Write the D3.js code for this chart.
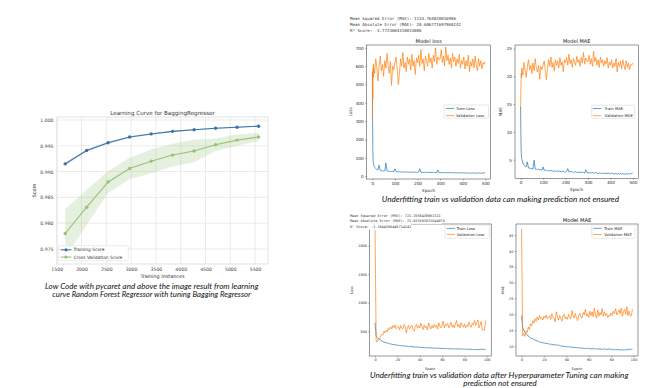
<!DOCTYPE html>
<html><head><meta charset="utf-8">
<script src="https://cdn.jsdelivr.net/npm/d3@7"></script>
<style>body{margin:0;background:#fff}svg{display:block}</style>
</head><body><svg id="c" width="660" height="388"></svg>
<script>
// ================= DATA =================
// Learning curve (left)
const trainSizes = [1671, 2104, 2537, 2970, 3404, 3837, 4270, 4703, 5137, 5570];
const trainScore = [0.9915, 0.9941, 0.9956, 0.9967, 0.9973, 0.9978, 0.9981, 0.9984, 0.9986, 0.9988];
const trainStd   = [0.0003, 0.0002, 0.0002, 0.00015, 0.00015, 0.00012, 0.0001, 0.0001, 0.0001, 0.0001];
const cvScore    = [0.9780, 0.9831, 0.9880, 0.9906, 0.9920, 0.9932, 0.9940, 0.9952, 0.9961, 0.9967];
const cvStd      = [0.0047, 0.0034, 0.0021, 0.0021, 0.0023, 0.0022, 0.0022, 0.0012, 0.0011, 0.0008];
const lcXTicks = [1500, 2000, 2500, 3000, 3500, 4000, 4500, 5000, 5500];
const lcYTicks = [0.975, 0.980, 0.985, 0.990, 0.995, 1.000];

// Top panels (500 epochs, sampled)
const topEpochs = [0, 1, 2, 3, 4].concat(d3.range(5, 500, 5), [499]);
const topTrainLoss = [570, 310, 150, 100, 78,
  64, 48, 42, 37, 34, 60, 31, 30, 29, 28, 29, 72, 28, 27, 26, 27, 25, 26, 25,
  40, 24, 24, 23, 25, 23, 22, 24, 23, 22, 23, 22, 21, 23, 22, 21, 22, 21, 22, 21,
  21, 22, 40, 21, 20, 21, 22, 20, 21, 20, 21, 20, 19, 21, 20, 20, 19, 20, 34, 20,
  19, 20, 19, 18, 20, 19, 18, 19, 20, 18, 19, 18, 19, 18, 17, 19, 18, 17, 18, 19,
  18, 17, 18, 16, 17, 18, 16, 17, 16, 18, 16, 17, 16, 17, 16, 18, 16, 17, 17, 18, 20];
const topValLoss = [300, 560, 420, 590, 540,
  610, 560, 640, 590, 520, 600, 655, 575, 610, 545, 630, 590, 670, 600, 560, 625, 495, 600, 580,
  620, 650, 585, 500, 560, 640, 600, 675, 590, 620, 570, 650, 610, 640, 580, 665, 600, 630, 555, 645,
  620, 660, 600, 690, 615, 640, 575, 655, 630, 600, 670, 620, 645, 590, 660, 625, 700, 610, 650, 635,
  640, 690, 620, 655, 600, 705, 630, 660, 610, 645, 590, 670, 625, 650, 600, 640, 615, 665, 590, 630,
  610, 650, 585, 630, 600, 660, 570, 625, 600, 640, 590, 655, 610, 575, 640, 600, 630, 585, 620, 610, 625];
const topTrainMAE = [14.5, 10.5, 7.5, 6.2, 5.5,
  5.2, 4.4, 4.0, 3.8, 3.7, 4.6, 3.5, 3.5, 3.4, 3.4, 3.3, 4.9, 3.3, 3.3, 3.2, 3.3, 3.2, 3.2, 3.1,
  3.7, 3.1, 3.1, 3.0, 3.1, 3.0, 3.0, 3.1, 3.0, 2.9, 3.0, 2.9, 2.9, 3.0, 2.9, 2.9, 2.8, 2.9, 2.9, 2.8,
  2.8, 2.9, 3.4, 2.8, 2.8, 2.9, 2.8, 2.7, 2.8, 2.8, 2.7, 2.8, 2.7, 2.7, 2.8, 2.7, 2.7, 2.6, 3.2, 2.7,
  2.7, 2.6, 2.7, 2.6, 2.7, 2.6, 2.6, 2.7, 2.6, 2.5, 2.6, 2.6, 2.5, 2.6, 2.5, 2.6, 2.5, 2.5, 2.6, 2.5,
  2.5, 2.6, 2.5, 2.4, 2.5, 2.5, 2.4, 2.5, 2.4, 2.5, 2.4, 2.5, 2.4, 2.4, 2.5, 2.4, 2.5, 2.4, 2.5, 2.5, 2.6];
const topValMAE = [14.0, 17.0, 19.5, 20.6, 19.8,
  21.5, 20.2, 22.5, 21.0, 19.8, 21.8, 23.0, 21.2, 22.0, 20.5, 22.4, 21.0, 23.2, 21.5, 20.8, 22.0, 19.5, 21.8, 21.2,
  22.0, 22.8, 21.0, 19.4, 21.5, 23.0, 21.8, 23.5, 21.6, 22.5, 21.0, 23.0, 22.0, 22.8, 21.5, 23.4, 22.0, 22.6, 20.8, 23.0,
  22.5, 23.4, 22.0, 24.0, 22.3, 23.0, 21.6, 23.2, 22.6, 22.0, 23.6, 22.5, 23.0, 21.8, 23.4, 22.4, 24.3, 22.2, 23.3, 22.8,
  22.6, 23.8, 22.2, 23.2, 21.8, 24.5, 22.6, 23.4, 22.0, 23.0, 21.6, 23.5, 22.4, 23.0, 21.8, 22.8, 22.2, 23.4, 21.5, 22.6,
  22.0, 23.0, 21.5, 22.4, 21.8, 23.2, 20.8, 22.5, 21.8, 22.8, 21.4, 23.0, 22.0, 21.2, 22.8, 21.6, 22.4, 21.2, 22.2, 22.0, 22.4];

// Bottom panels (100 epochs)
const botEpochs = d3.range(100);
const botTrainLoss = [650, 420, 390, 370, 355, 340, 330, 320, 310, 305,
  300, 292, 288, 282, 278, 272, 268, 265, 262, 258,
  256, 252, 250, 248, 246, 243, 240, 244, 236, 238,
  232, 235, 228, 236, 226, 224, 225, 222, 221, 219,
  222, 216, 218, 214, 213, 215, 210, 212, 209, 210,
  207, 209, 205, 204, 206, 202, 200, 203, 199, 202,
  198, 196, 199, 195, 200, 194, 192, 197, 191, 193,
  190, 193, 188, 190, 196, 187, 189, 186, 194, 185,
  188, 183, 186, 182, 188, 181, 184, 180, 178, 183,
  180, 177, 179, 176, 185, 182, 184, 180, 182, 178];
const botValLoss = [2276, 330, 310, 380, 360, 420, 450, 430, 500, 470,
  520, 490, 560, 530, 580, 540, 600, 560, 610, 540,
  570, 590, 520, 600, 560, 540, 620, 580, 470, 560,
  600, 540, 590, 610, 530, 500, 580, 620, 550, 600,
  560, 640, 580, 530, 610, 560, 590, 520, 650, 580,
  540, 600, 560, 620, 570, 600, 540, 650, 590, 560,
  610, 680, 560, 620, 590, 640, 560, 600, 660, 570,
  610, 560, 640, 690, 580, 620, 560, 650, 600, 570,
  630, 560, 610, 580, 660, 600, 570, 640, 610, 690,
  600, 650, 700, 560, 610, 670, 520, 530, 520, 690];
const botTrainMAE = [19.6, 15.8, 14.9, 14.4, 13.9, 13.5, 13.1, 12.9, 12.6, 12.4,
  12.3, 12.0, 11.9, 11.7, 11.6, 11.5, 11.3, 11.2, 11.1, 11.0,
  11.0, 10.9, 10.8, 10.8, 10.7, 10.6, 10.5, 10.6, 10.4, 10.4,
  10.3, 10.4, 10.2, 10.4, 10.1, 10.0, 10.0, 9.9, 9.9, 9.8,
  9.9, 9.7, 9.8, 9.7, 9.6, 9.7, 9.5, 9.6, 9.5, 9.5,
  9.4, 9.5, 9.4, 9.3, 9.4, 9.3, 9.2, 9.3, 9.2, 9.3,
  9.2, 9.1, 9.2, 9.1, 9.3, 9.1, 9.0, 9.2, 9.0, 9.1,
  9.0, 9.1, 8.9, 9.0, 9.2, 8.9, 9.0, 8.9, 9.2, 8.9,
  9.0, 8.8, 8.9, 8.8, 9.0, 8.8, 8.9, 8.8, 8.7, 8.9,
  8.8, 8.7, 8.8, 8.7, 9.0, 8.9, 9.0, 8.9, 9.0, 9.0];
const botValMAE = [46.9, 13.2, 14.0, 13.0, 14.8, 14.2, 16.0, 15.2, 17.0, 16.4,
  18.0, 17.2, 18.6, 17.8, 19.2, 18.2, 19.6, 18.6, 19.0, 18.2,
  19.4, 18.8, 19.8, 18.6, 19.2, 19.6, 18.4, 20.2, 19.0, 18.8,
  17.6, 20.8, 19.4, 18.2, 19.6, 18.8, 17.8, 19.4, 20.0, 18.6,
  19.2, 18.4, 20.0, 19.2, 18.6, 21.2, 19.6, 18.8, 20.2, 19.0,
  18.0, 19.6, 20.4, 19.2, 18.8, 20.6, 19.8, 21.6, 19.4, 20.2,
  19.0, 21.0, 19.6, 20.8, 19.2, 22.0, 19.6, 18.8, 21.4, 19.4,
  20.6, 19.8, 21.8, 19.4, 20.8, 19.6, 20.2, 19.0, 19.8, 19.4,
  20.4, 19.6, 21.0, 20.2, 21.8, 19.8, 20.6, 21.4, 20.2, 22.0,
  19.4, 20.8, 21.6, 20.0, 22.4, 19.6, 21.0, 19.4, 19.6, 21.6];

const topMetrics = ["Mean Squared Error (MSE): 1133.764020016986",
  "Mean Absolute Error (MAE): 20.606771697968242",
  "R\u00B2 Score: -3.7723604310013086"];
const botMetrics = ["Mean Squared Error (MSE): 721.2658438061321",
  "Mean Absolute Error (MAE): 21.031692031644079",
  "R\u00B2 Score: -1.1644396445714243"];

// ================= DRAW =================
const svg = d3.select("#c");
svg.append("rect").attr("width", 660).attr("height", 388).attr("fill", "#fff");
const MPL = "DejaVu Sans, sans-serif";
const CAP = "Lato, 'Open Sans', sans-serif";

// ---------- Learning curve ----------
(function () {
  const L = 57, R = 268, T = 117, B = 264;
  const x = d3.scaleLinear().domain([1506, 5760]).range([L, R]);
  const y = d3.scaleLinear().domain([0.97209, 1.00058]).range([B, T]);
  const g = svg.append("g");
  g.append("rect").attr("x", L).attr("y", T).attr("width", R - L).attr("height", B - T)
    .attr("fill", "#fff").attr("stroke", "#d9d9d9").attr("stroke-width", 0.8);
  g.selectAll(".vg").data(lcXTicks).join("line").attr("x1", d => x(d)).attr("x2", d => x(d))
    .attr("y1", T).attr("y2", B).attr("stroke", "#e6e6e6").attr("stroke-width", 0.8);
  g.selectAll(".hg").data(lcYTicks).join("line").attr("y1", d => y(d)).attr("y2", d => y(d))
    .attr("x1", L).attr("x2", R).attr("stroke", "#e6e6e6").attr("stroke-width", 0.8);
  const idx = d3.range(trainSizes.length);
  const area = (m, s) => d3.area().x(i => x(trainSizes[i])).y0(i => y(m[i] - s[i])).y1(i => y(m[i] + s[i]));
  g.append("path").datum(idx).attr("d", area(cvScore, cvStd)).attr("fill", "#9cc27a").attr("opacity", 0.25);
  g.append("path").datum(idx).attr("d", area(trainScore, trainStd)).attr("fill", "#3a74aa").attr("opacity", 0.25);
  const ln = m => d3.line().x(i => x(trainSizes[i])).y(i => y(m[i]));
  const cols = ["#3a74aa", "#98c277"];
  [[trainScore, cols[0]], [cvScore, cols[1]]].forEach(([m, c]) => {
    g.append("path").datum(idx).attr("d", ln(m)).attr("fill", "none").attr("stroke", c).attr("stroke-width", 1.1);
    g.selectAll(null).data(idx).join("circle").attr("cx", i => x(trainSizes[i])).attr("cy", i => y(m[i]))
      .attr("r", 1.7).attr("fill", c);
  });
  const ax = g.append("g").attr("transform", `translate(0,${B})`)
    .call(d3.axisBottom(x).tickValues(lcXTicks).tickSize(0).tickPadding(4).tickFormat(d3.format("d")));
  ax.select(".domain").remove();
  ax.attr("font-size", 4.6).attr("font-family", MPL);
  ax.selectAll("text").attr("fill", "#444");
  const ay = g.append("g").attr("transform", `translate(${L},0)`)
    .call(d3.axisLeft(y).tickValues(lcYTicks).tickSize(0).tickPadding(3.5).tickFormat(d3.format(".3f")));
  ay.select(".domain").remove();
  ay.attr("font-size", 4.6).attr("font-family", MPL);
  ay.selectAll("text").attr("fill", "#444");
  g.append("text").attr("x", (L + R) / 2).attr("y", 115).attr("text-anchor", "middle")
    .attr("font-family", MPL).attr("font-size", 5.6).attr("fill", "#333").text("Learning Curve for BaggingRegressor");
  g.append("text").attr("x", (L + R) / 2).attr("y", 277.6).attr("text-anchor", "middle")
    .attr("font-family", MPL).attr("font-size", 4.9).attr("fill", "#333").text("Training Instances");
  g.append("text").attr("transform", `translate(36,${(T + B) / 2}) rotate(-90)`).attr("text-anchor", "middle")
    .attr("font-family", MPL).attr("font-size", 4.9).attr("fill", "#333").text("Score");
  // legend
  g.append("rect").attr("x", 58.3).attr("y", 245.7).attr("width", 70).attr("height", 15).attr("rx", 1.5)
    .attr("fill", "#fff").attr("fill-opacity", 0.8).attr("stroke", "#ddd").attr("stroke-width", 0.6);
  [["Training Score", 249.8, cols[0]], ["Cross Validation Score", 257.1, cols[1]]].forEach(([t, yy, c]) => {
    g.append("line").attr("x1", 60.5).attr("x2", 71.5).attr("y1", yy).attr("y2", yy).attr("stroke", c).attr("stroke-width", 1.1);
    g.append("circle").attr("cx", 66).attr("cy", yy).attr("r", 1.6).attr("fill", c);
    g.append("text").attr("x", 73.5).attr("y", yy + 1.5).attr("font-family", MPL).attr("font-size", 4.4)
      .attr("fill", "#333").text(t);
  });
})();

// ---------- Matplotlib panels ----------
function panel(p) {
  const x = d3.scaleLinear().domain(p.xDomain).range([p.L, p.R]);
  const y = d3.scaleLinear().domain(p.yDomain).range([p.B, p.T]);
  const g = svg.append("g");
  const cid = "clip" + p.id;
  svg.append("clipPath").attr("id", cid).append("rect")
    .attr("x", p.L).attr("y", p.T).attr("width", p.R - p.L).attr("height", p.B - p.T);
  const line = d3.line().x((d, i) => x(p.epochs[i])).y(d => y(d));
  g.append("path").datum(p.train).attr("d", line).attr("fill", "none").attr("stroke", "#1f77b4")
    .attr("stroke-width", p.lw).attr("stroke-linejoin", "round").attr("clip-path", `url(#${cid})`);
  g.append("path").datum(p.val).attr("d", line).attr("fill", "none").attr("stroke", "#ff7f0e")
    .attr("stroke-width", p.lw).attr("stroke-linejoin", "round").attr("clip-path", `url(#${cid})`);
  g.append("rect").attr("x", p.L).attr("y", p.T).attr("width", p.R - p.L).attr("height", p.B - p.T)
    .attr("fill", "none").attr("stroke", "#333").attr("stroke-width", 0.5);
  const ax = g.append("g").attr("transform", `translate(0,${p.B})`)
    .call(d3.axisBottom(x).tickValues(p.xTicks).tickSize(p.tick).tickPadding(p.pad).tickFormat(d3.format("d")));
  ax.select(".domain").remove();
  ax.attr("font-size", p.fs).attr("font-family", MPL);
  ax.selectAll("line").attr("stroke", "#333").attr("stroke-width", 0.4);
  ax.selectAll("text").attr("fill", "#222");
  const ay = g.append("g").attr("transform", `translate(${p.L},0)`)
    .call(d3.axisLeft(y).tickValues(p.yTicks).tickSize(p.tick).tickPadding(p.pad).tickFormat(d3.format("d")));
  ay.select(".domain").remove();
  ay.attr("font-size", p.fs).attr("font-family", MPL);
  ay.selectAll("line").attr("stroke", "#333").attr("stroke-width", 0.4);
  ay.selectAll("text").attr("fill", "#222");
  if (p.title) g.append("text").attr("x", (p.L + p.R) / 2).attr("y", p.T - 2.2).attr("text-anchor", "middle")
    .attr("font-family", MPL).attr("font-size", p.tfs).attr("fill", "#111").text(p.title);
  g.append("text").attr("x", (p.L + p.R) / 2).attr("y", p.xlabY).attr("text-anchor", "middle")
    .attr("font-family", MPL).attr("font-size", p.fs).attr("fill", "#222").text("Epoch");
  g.append("text").attr("transform", `translate(${p.ylabX},${(p.T + p.B) / 2}) rotate(-90)`).attr("text-anchor", "middle")
    .attr("font-family", MPL).attr("font-size", p.fs).attr("fill", "#222").text(p.ylabel);
  const lg = p.legend;
  g.append("rect").attr("x", lg.x).attr("y", lg.y).attr("width", lg.w).attr("height", lg.h).attr("rx", 1)
    .attr("fill", "#fff").attr("fill-opacity", 0.8).attr("stroke", "#d0d0d0").attr("stroke-width", 0.5);
  lg.labels.forEach((t, i) => {
    const yy = lg.rows[i];
    g.append("line").attr("x1", lg.lx[0]).attr("x2", lg.lx[1]).attr("y1", yy).attr("y2", yy)
      .attr("stroke", i ? "#ff7f0e" : "#1f77b4").attr("stroke-width", 0.7);
    g.append("text").attr("x", lg.tx).attr("y", yy + lg.fs * 0.36).attr("font-family", MPL)
      .attr("font-size", lg.fs).attr("fill", "#222").text(t);
  });
}

panel({ id: "tl", L: 366.7, R: 490.7, T: 45, B: 179, xDomain: [-25, 524], yDomain: [-15.6, 715.6],
  epochs: topEpochs, train: topTrainLoss, val: topValLoss, lw: 0.7,
  xTicks: [0, 100, 200, 300, 400, 500], yTicks: [0, 100, 200, 300, 400, 500, 600, 700],
  tick: 1.5, pad: 1.5, fs: 4.2, tfs: 5, title: "Model loss", xlabY: 191.6, ylabX: 351.7, ylabel: "Loss",
  legend: { x: 444, y: 105, w: 44.5, h: 13.2, rows: [108.4, 115.6], lx: [446, 454.3], tx: 456, fs: 3.8,
    labels: ["Train Loss", "Validation Loss"] } });

panel({ id: "tr", L: 515, R: 638.3, T: 45, B: 178.3, xDomain: [-25, 524], yDomain: [1.65, 25.65],
  epochs: topEpochs, train: topTrainMAE, val: topValMAE, lw: 0.7,
  xTicks: [0, 100, 200, 300, 400, 500], yTicks: [5, 10, 15, 20, 25],
  tick: 1.5, pad: 1.5, fs: 4.2, tfs: 5, title: "Model MAE", xlabY: 191.2, ylabX: 502.3, ylabel: "MAE",
  legend: { x: 591.7, y: 105.2, w: 42.8, h: 13.2, rows: [108.5, 115.7], lx: [592.8, 601.2], tx: 604.6, fs: 3.8,
    labels: ["Train MAE", "Validation MAE"] } });

panel({ id: "bl", L: 369.5, R: 491.2, T: 224, B: 356, xDomain: [-4.95, 103.95], yDomain: [66, 2381],
  epochs: botEpochs, train: botTrainLoss, val: botValLoss, lw: 0.7,
  xTicks: [0, 20, 40, 60, 80, 100], yTicks: [500, 1000, 1500, 2000],
  tick: 1.3, pad: 1.3, fs: 3.4, tfs: 5.2, title: null, xlabY: 370.4, ylabX: 352.7, ylabel: "Loss",
  legend: { x: 445, y: 225, w: 44.3, h: 13.3, rows: [228.4, 234.4], lx: [446.7, 455], tx: 456.8, fs: 3.7,
    labels: ["Train Loss", "Validation Loss"] } });

panel({ id: "br", L: 516, R: 638, T: 224, B: 356, xDomain: [-4.95, 103.95], yDomain: [6.85, 48.5],
  epochs: botEpochs, train: botTrainMAE, val: botValMAE, lw: 0.7,
  xTicks: [0, 20, 40, 60, 80, 100], yTicks: [10, 15, 20, 25, 30, 35, 40, 45],
  tick: 1.3, pad: 1.3, fs: 3.4, tfs: 5.2, title: "Model MAE", xlabY: 370.4, ylabX: 504.3, ylabel: "MAE",
  legend: { x: 591.7, y: 225, w: 43.3, h: 13.3, rows: [228.3, 234.5], lx: [593.3, 601.7], tx: 604.3, fs: 3.7,
    labels: ["Train MAE", "Validation MAE"] } });

// ---------- metric text blocks ----------
const MONO = "DejaVu Sans Mono, Liberation Mono, monospace";
topMetrics.forEach((t, i) => {
  svg.append("text").attr("x", 350).attr("y", 20.4 + i * 6).attr("font-family", MONO)
    .attr("font-size", 4.1).attr("fill", "#333").text(t);
});
const bw = [91, 94, 63];
botMetrics.forEach((t, i) => {
  const yy = 216.6 + i * 5.7;
  svg.append("rect").attr("x", 348).attr("y", yy - 4.3).attr("width", bw[i]).attr("height", 5.8).attr("fill", "#fff");
});
botMetrics.forEach((t, i) => {
  svg.append("text").attr("x", 350).attr("y", 216.6 + i * 5.7).attr("font-family", MONO)
    .attr("font-size", 3.5).attr("fill", "#333").text(t);
});

// ---------- captions ----------
function cap(t, cx, yy, w) {
  svg.append("text").attr("x", cx - w / 2).attr("y", yy).attr("font-family", CAP).attr("font-style", "italic")
    .attr("font-size", 7.2).attr("fill", "#111").attr("textLength", w).attr("lengthAdjust", "spacingAndGlyphs").text(t);
}
cap("Low Code with pycaret and above the image result from learning", 151.7, 288.6, 213.3);
cap("curve Random Forest Regressor with tuning Bagging Regressor", 151.5, 296.9, 198.4);
cap("Underfitting train vs validation data can making prediction not ensured", 500.4, 201.6, 237.3);
cap("Underfitting train vs validation data after Hyperparameter Tuning can making", 499.2, 377.6, 258.3);
cap("prediction not ensured", 500, 385.9, 73.4);
</script></body></html>
